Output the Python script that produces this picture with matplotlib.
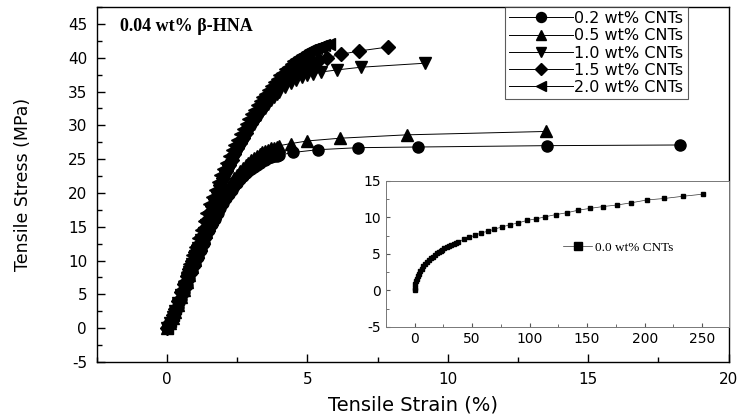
import numpy as np
import matplotlib
matplotlib.use("Agg")
import matplotlib.pyplot as plt
from matplotlib.ticker import MultipleLocator

plt.rcParams['font.family'] = ['DejaVu Sans']
plt.rcParams['axes.unicode_minus'] = False

# shared strain grid (%) for the dense early part of each curve
strain_dense = [0.0, 0.1, 0.2, 0.3, 0.4, 0.5, 0.6, 0.7, 0.8, 0.9,
                1.0, 1.1, 1.2, 1.3, 1.4, 1.5, 1.6, 1.7, 1.8, 1.9,
                2.0, 2.1, 2.2, 2.3, 2.4, 2.5, 2.6, 2.7, 2.8, 2.9,
                3.0, 3.1, 3.2, 3.3, 3.4, 3.5, 3.6, 3.7, 3.8, 3.9, 4.0]

# stress (MPa) on the dense grid
stress_02 = [0, 0.6, 1.4, 2.2, 3.2, 4.3, 5.3, 6.4, 7.4, 8.5,
             9.5, 10.6, 11.6, 12.6, 13.6, 14.5, 15.4, 16.2, 17.0, 17.8,
             18.5, 19.2, 19.8, 20.4, 21.0, 21.5, 22.0, 22.5, 22.9, 23.3,
             23.6, 23.9, 24.2, 24.5, 24.7, 24.9, 25.1, 25.25, 25.4, 25.5, 25.6]
stress_05 = [0, 0.7, 1.5, 2.4, 3.5, 4.6, 5.7, 6.8, 7.9, 9.0,
             10.1, 11.2, 12.3, 13.3, 14.3, 15.3, 16.2, 17.1, 18.0, 18.8,
             19.6, 20.3, 21.0, 21.6, 22.2, 22.7, 23.2, 23.7, 24.1, 24.5,
             24.9, 25.2, 25.5, 25.8, 26.0, 26.2, 26.4, 26.6, 26.7, 26.85, 27.0]
stress_10 = [0, 0.8, 1.7, 2.6, 3.7, 4.9, 6.0, 7.2, 8.3, 9.5,
             10.7, 11.8, 13.0, 14.1, 15.2, 16.3, 17.4, 18.4, 19.5, 20.5,
             21.4, 22.4, 23.3, 24.1, 25.0, 25.8, 26.6, 27.4, 28.1, 28.9,
             29.6, 30.2, 30.9, 31.5, 32.1, 32.6, 33.2, 33.7, 34.2, 34.6, 35.0]
stress_15 = [0, 0.9, 1.9, 2.8, 4.0, 5.3, 6.5, 7.7, 8.8, 10.0,
             11.2, 12.3, 13.5, 14.7, 15.8, 17.0, 18.1, 19.1, 20.2, 21.2,
             22.2, 23.2, 24.1, 24.9, 25.8, 26.6, 27.4, 28.2, 28.9, 29.7,
             30.4, 31.0, 31.7, 32.3, 32.9, 33.4, 34.0, 34.5, 35.0, 35.5, 35.9]
stress_20 = [0, 1.0, 2.0, 3.0, 4.3, 5.7, 7.0, 8.3, 9.5, 10.8,
             12.0, 13.3, 14.5, 15.8, 17.0, 18.3, 19.4, 20.5, 21.6, 22.6,
             23.5, 24.5, 25.4, 26.3, 27.1, 27.9, 28.7, 29.5, 30.2, 31.0,
             31.7, 32.3, 33.0, 33.6, 34.2, 34.7, 35.3, 35.8, 36.4, 36.9, 37.4]

# sparse tails after 4 % strain
tail_x_02 = [4.5, 5.37, 6.8, 8.93, 13.52, 18.28]
tail_y_02 = [26.0, 26.4, 26.7, 26.8, 27.0, 27.1]
tail_x_05 = [4.4, 5.0, 6.16, 8.53, 13.48]
tail_y_05 = [27.3, 27.7, 28.1, 28.6, 29.1]
tail_x_10 = [4.2, 4.4, 4.6, 4.8, 5.0, 5.2, 5.5, 6.04, 6.9, 9.2]
tail_y_10 = [35.7, 36.3, 36.7, 37.1, 37.4, 37.6, 37.9, 38.2, 38.6, 39.2]
tail_x_15 = [4.2, 4.4, 4.6, 4.8, 5.0, 5.2, 5.4, 5.7, 6.18, 6.83, 7.88]
tail_y_15 = [36.8, 37.5, 38.2, 38.7, 39.1, 39.4, 39.7, 40.0, 40.5, 41.0, 41.6]
tail_x_20 = [4.1, 4.2, 4.3, 4.4, 4.5, 4.6, 4.7, 4.8, 4.9, 5.0,
             5.1, 5.2, 5.3, 5.4, 5.5, 5.6, 5.76]
tail_y_20 = [37.8, 38.3, 38.7, 39.1, 39.5, 39.8, 40.1, 40.4, 40.6, 40.9,
             41.1, 41.3, 41.5, 41.6, 41.75, 41.85, 42.0]

labels = ['0.2 wt% CNTs', '0.5 wt% CNTs', '1.0 wt% CNTs', '1.5 wt% CNTs', '2.0 wt% CNTs']
markers = ['o', '^', 'v', 'D', '<']

# neat polymer (inset)
strain_00 = [0, 0.3, 0.6, 1.2, 2.0, 2.8, 3.8, 5.0, 6.4, 7.8, 9.3, 10.8, 12.4,
             14.1, 15.9, 17.6, 19.4, 21.0, 22.6, 24.3, 26.0, 27.9, 29.8, 31.8,
             33.9, 36.0, 38.2, 42.8, 47.7, 52.7, 57.9, 63.7, 69.4, 76.0, 83.0,
             90.3, 97.8, 105.6, 113.7, 123.0, 132.5, 142.4, 152.8, 164.0,
             175.6, 188.0, 202.0, 217.0, 233.0, 251.0]
stress_00 = [0, 0.4, 0.9, 1.3, 1.6, 2.0, 2.3, 2.6, 2.9, 3.3, 3.6, 3.9, 4.2,
             4.4, 4.6, 4.9, 5.1, 5.25, 5.4, 5.6, 5.8, 5.95, 6.1, 6.25,
             6.4, 6.55, 6.7, 7.0, 7.3, 7.55, 7.9, 8.1, 8.4, 8.7, 9.0,
             9.26, 9.6, 9.8, 10.1, 10.4, 10.65, 11.0, 11.25, 11.5,
             11.7, 12.0, 12.4, 12.6, 12.9, 13.2]

fig = plt.figure(figsize=(7.39, 4.17), dpi=100)
ax = fig.add_axes([0.131, 0.132, 0.855, 0.851])

series = [(stress_02, tail_x_02, tail_y_02), (stress_05, tail_x_05, tail_y_05),
          (stress_10, tail_x_10, tail_y_10), (stress_15, tail_x_15, tail_y_15),
          (stress_20, tail_x_20, tail_y_20)]
for (sy, tx, ty), lab, mk in zip(series, labels, markers):
    xs = strain_dense + tx
    ys = sy + ty
    ms = 7 if mk == 'D' else 8
    ax.plot(xs, ys, '-', color='black', lw=0.7, marker=mk, ms=ms,
            mfc='black', mec='black', label=lab)

ax.set_xlim(-2.5, 20)
ax.set_ylim(-5, 47.5)
ax.xaxis.set_major_locator(MultipleLocator(5))
ax.xaxis.set_minor_locator(MultipleLocator(2.5))
ax.yaxis.set_major_locator(MultipleLocator(5))
ax.yaxis.set_minor_locator(MultipleLocator(2.5))
ax.tick_params(which='both', direction='in', top=False, right=False, labelsize=11)
ax.tick_params(which='major', length=6, width=1, pad=7)
ax.tick_params(which='minor', length=3.5, width=1)
ax.set_xlabel('Tensile Strain (%)', fontsize=14, labelpad=6)
ax.set_ylabel('Tensile Stress (MPa)', fontsize=12.5, labelpad=26)
for s in ax.spines.values():
    s.set_linewidth(1)

leg = ax.legend(loc='upper right', bbox_to_anchor=(0.935, 1.0), fontsize=11.5,
                frameon=True, fancybox=False, edgecolor='#333333',
                handlelength=4.0, labelspacing=0.14, borderpad=0.25,
                handletextpad=0.1, borderaxespad=0.0, markerscale=0.9)
leg.get_frame().set_linewidth(0.8)

ax.text(0.036, 0.944, '0.04 wt% β-HNA', transform=ax.transAxes, fontsize=13,
        fontweight='bold', family=['Liberation Serif', 'DejaVu Serif'],
        va='center', ha='left')

# inset
axin = fig.add_axes([0.522, 0.216, 0.464, 0.350])
axin.plot(strain_00, stress_00, '-', color='#333333', lw=0.5, marker='s', ms=3,
          mfc='black', mec='black', label='0.0 wt% CNTs')
axin.set_xlim(-25, 273)
axin.set_ylim(-5, 15)
axin.xaxis.set_major_locator(MultipleLocator(50))
axin.xaxis.set_minor_locator(MultipleLocator(25))
axin.yaxis.set_major_locator(MultipleLocator(5))
axin.yaxis.set_minor_locator(MultipleLocator(2.5))
axin.tick_params(which='both', direction='in', top=False, right=False,
                 labelsize=10, color='#555555')
axin.tick_params(which='major', length=3)
axin.tick_params(which='minor', length=2)
for s in axin.spines.values():
    s.set_linewidth(0.7)
    s.set_color('#777777')
ileg = axin.legend(loc='center', bbox_to_anchor=(0.678, 0.545), frameon=False,
                   prop={'family': ['Liberation Serif', 'DejaVu Serif'], 'size': 9.5},
                   handlelength=2.2, handletextpad=0.2, markerscale=2.0)

fig.savefig('out.png', dpi=100)
